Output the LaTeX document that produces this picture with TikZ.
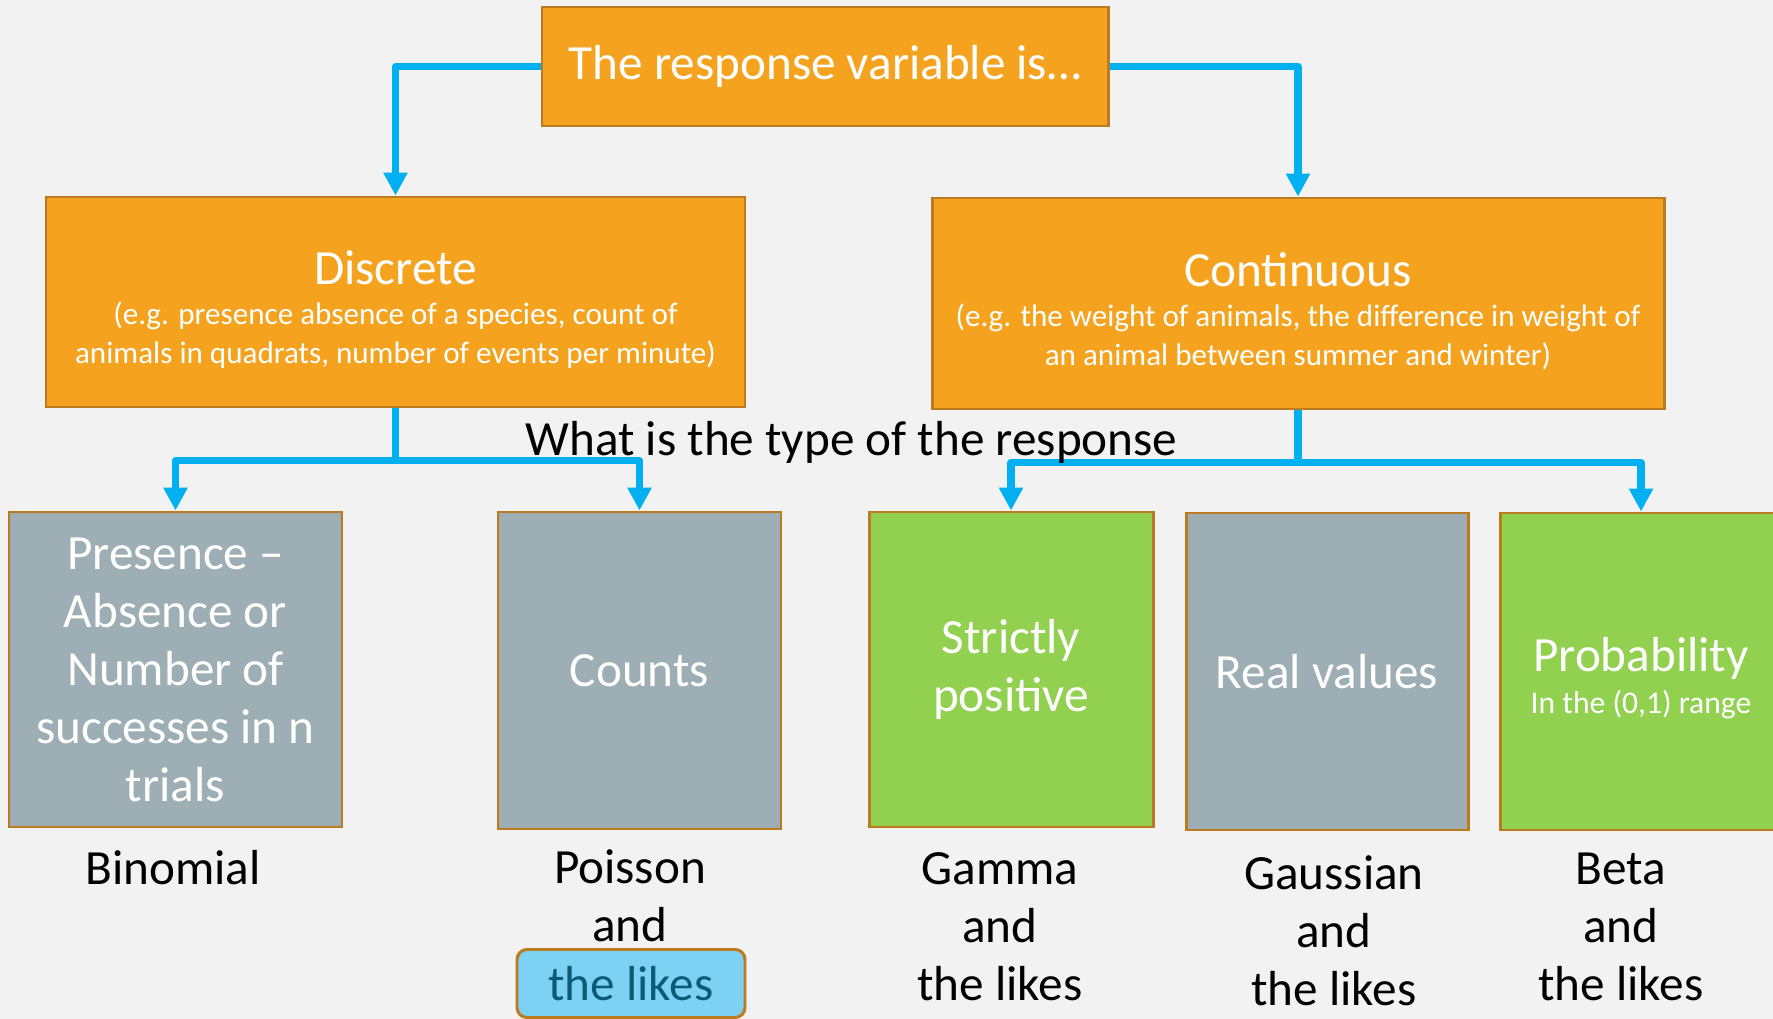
\documentclass[tikz,border=0pt]{standalone}
\usepackage{fontspec}
\setmainfont{Carlito}
\usetikzlibrary{arrows.meta,positioning,calc}

\definecolor{bgcol}{HTML}{F2F2F2}
\definecolor{boxorange}{HTML}{F5A31F}
\definecolor{boxgray}{HTML}{9DAFB4}
\definecolor{boxgreen}{HTML}{92D050}
\definecolor{boxedge}{HTML}{BC7B1E}
\definecolor{linkblue}{HTML}{00B0F0}
\definecolor{pillblue}{HTML}{7DD2F3}
\definecolor{pilltext}{HTML}{0A5A78}

\begin{document}
\begin{tikzpicture}[
    bigtext/.style={font=\fontsize{28}{33}\selectfont},
    typebox/.style={rectangle, draw=boxedge, line width=1.7pt, text=white, align=center, inner sep=0pt, bigtext},
    catbox/.style={typebox, fill=boxorange},
    graybox/.style={typebox, fill=boxgray},
    greenbox/.style={typebox, fill=boxgreen},
    distlabel/.style={align=center, text=black, bigtext},
    link/.style={linkblue, line width=4pt, line join=round, -{Triangle[width=0.46cm, length=0.46cm]}}
]
    % Hintergrund
    \fill[bgcol] (0,0) rectangle (35.46,-20.38);
    \useasboundingbox (0,0) rectangle (35.46,-20.38);

    % Frage oben
    \node[catbox, minimum width=11.32cm, minimum height=2.38cm] (resp) at (16.50,-1.33) {The response variable is\ldots};

    % Diskret / stetig
    \node[catbox, font=\fontsize{17.7}{22}\selectfont, minimum width=13.98cm, minimum height=4.20cm] (disc) at (7.91,-6.04)
        {\rule{0pt}{28pt}{\fontsize{28}{33}\selectfont Discrete}\\[1pt](e.g. presence absence of a species, count of\\animals in quadrats, number of events per minute)};
    \node[catbox, font=\fontsize{17.7}{22}\selectfont, minimum width=14.64cm, minimum height=4.22cm] (cont) at (25.96,-6.07)
        {\rule{0pt}{28pt}{\fontsize{28}{33}\selectfont Continuous}\\[1pt](e.g. the weight of animals, the difference in weight of\\an animal between summer and winter)};

    % Typen der Antwort
    \node[graybox, minimum width=6.66cm, minimum height=6.30cm] (binbox) at (3.51,-13.39) {Presence --\\Absence or\\Number of\\successes in n\\trials};
    \node[graybox, minimum width=5.66cm, minimum height=6.34cm] (countbox) at (12.79,-13.41) {Counts};
    \node[greenbox, minimum width=5.68cm, minimum height=6.30cm] (posbox) at (20.22,-13.39) {Strictly\\positive};
    \node[graybox, minimum width=5.64cm, minimum height=6.34cm] (realbox) at (26.54,-13.43) {Real values};
    \node[greenbox, font=\fontsize{18}{24}\selectfont, minimum width=5.64cm, minimum height=6.34cm] (probbox) at (32.82,-13.43)
        {\rule{0pt}{27pt}{\fontsize{28}{33}\selectfont Probability}\\In the (0,1) range};

    % Verbindungen
    \coordinate (dsplit) at ($(disc.south)+(0,-1.04)$);
    \coordinate (csplit) at ($(cont.south)+(0,-1.04)$);
    \draw[link] (resp.west) -| (disc.north);
    \draw[link] (resp.east) -| (cont.north);
    \draw[link, -] (disc.south) -- (dsplit);
    \draw[link] (dsplit) -| (binbox.north);
    \draw[link] (dsplit) -| (countbox.north);
    \draw[link, -] (cont.south) -- (csplit);
    \draw[link] (csplit) -| (posbox.north);
    \draw[link] (csplit) -| (probbox.north);

    \node[bigtext, anchor=base] (question) at (17.03,-9.10) {What is the type of the response};

    % Verteilungen
    \node[distlabel] (binom) at (3.46,-17.36) {Binomial};
    \node[distlabel] (poisson) at (12.60,-17.91) {Poisson\\and};
    \node[rectangle, rounded corners=0.2cm, draw=boxedge, line width=1.7pt, fill=pillblue, text=pilltext, bigtext,
        minimum width=4.56cm, minimum height=1.36cm, inner sep=0pt] (likes) at (12.62,-19.67) {the likes};
    \node[distlabel] (gamma) at (20.00,-18.54) {Gamma\\and\\the likes};
    \node[distlabel] (gauss) at (26.68,-18.62) {Gaussian\\and\\the likes};
    \node[distlabel] (beta) at (32.42,-18.54) {Beta\\and\\the likes};
\end{tikzpicture}
\end{document}
